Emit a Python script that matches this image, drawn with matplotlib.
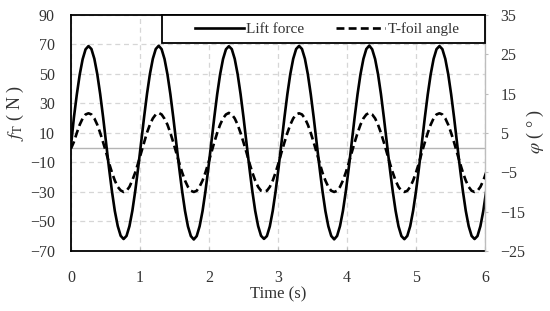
import numpy as np
import matplotlib
matplotlib.use("Agg")
import matplotlib.pyplot as plt
from matplotlib.patches import Rectangle

dt = 0.04237
lift_force = [
    1.0, 20.3, 36.0, 49.6, 60.0, 66.7, 68.9, 66.9, 60.3, 49.9, 36.3, 20.6, 3.4, -13.6, -29.3, -42.9, -53.1, -59.7, -61.9, -59.8, -53.2, -42.7, -29.1, -13.4,
    3.6, 20.6, 36.4, 49.9, 60.3, 66.9, 69.1, 66.8, 60.1, 49.7, 36.2, 20.4, 3.4, -13.5, -29.2, -42.8, -53.3, -59.9, -62.2, -59.9, -53.2, -42.9, -29.3, -13.6,
    3.4, 20.4, 36.2, 49.7, 60.1, 66.7, 68.8, 66.8, 60.2, 49.8, 36.3, 20.6, 3.6, -13.4, -29.2, -42.8, -53.1, -59.7, -61.8, -59.9, -53.3, -42.8, -29.2, -13.5,
    3.5, 20.5, 36.3, 49.9, 60.3, 66.9, 69.0, 66.9, 60.3, 49.8, 36.2, 20.5, 3.5, -13.5, -29.3, -42.9, -53.2, -59.8, -62.1, -59.8, -53.1, -42.8, -29.3, -13.6,
    3.7, 20.6, 36.3, 49.8, 60.2, 66.9, 69.2, 66.7, 60.1, 49.8, 36.3, 20.4, 3.4, -13.5, -29.1, -42.7, -53.3, -59.9, -62.0, -59.8, -53.2, -42.7, -29.2, -13.6,
    3.5, 20.4, 36.1, 49.7, 60.2, 66.8, 68.9, 66.8, 60.2, 49.8, 36.2, 20.5, 3.5, -13.6, -29.2, -42.8, -53.2, -59.8, -61.9, -59.9, -53.2, -42.8, -29.2, -13.5,
]
foil_angle = [
    1.0, 2.7, 5.0, 7.1, 8.7, 9.7, 10.0, 9.7, 8.7, 7.1, 5.0, 2.6, 0.1, -2.6, -5.0, -7.1, -8.7, -9.6, -10.0, -9.7, -8.7, -7.0, -5.0, -2.6,
    0.0, 2.6, 5.1, 7.1, 8.7, 9.7, 10.1, 9.7, 8.6, 7.1, 5.0, 2.6, 0.0, -2.6, -5.0, -7.1, -8.7, -9.7, -10.0, -9.7, -8.6, -7.1, -5.0, -2.6,
    0.0, 2.6, 5.0, 7.1, 8.7, 9.7, 10.1, 9.7, 8.7, 7.1, 5.0, 2.6, 0.1, -2.6, -5.0, -7.1, -8.7, -9.7, -9.9, -9.7, -8.7, -7.1, -5.0, -2.6,
    0.1, 2.6, 5.0, 7.1, 8.7, 9.7, 10.0, 9.7, 8.7, 7.1, 5.0, 2.6, 0.0, -2.6, -5.1, -7.1, -8.7, -9.7, -10.0, -9.7, -8.7, -7.1, -5.0, -2.6,
    0.0, 2.6, 5.0, 7.1, 8.7, 9.7, 10.1, 9.7, 8.7, 7.1, 5.0, 2.6, 0.0, -2.6, -5.0, -7.1, -8.7, -9.7, -10.0, -9.7, -8.7, -7.1, -5.0, -2.6,
    0.1, 2.6, 5.0, 7.1, 8.7, 9.7, 10.0, 9.7, 8.7, 7.1, 5.0, 2.6, 0.0, -2.6, -5.0, -7.1, -8.7, -9.7, -10.0, -9.7, -8.7, -7.1, -5.0, -2.6,
]
time = np.arange(len(lift_force)) * dt

x_ticks = [0, 1, 2, 3, 4, 5, 6]
left_ticks = [90, 70, 50, 30, 10, -10, -30, -50, -70]
right_ticks = [35, 25, 15, 5, -5, -15, -25]

plt.rcParams['font.family'] = ['Liberation Serif', 'DejaVu Serif']
plt.rcParams['mathtext.fontset'] = 'stix'
txt = '#333333'
fs = 11.5

fig = plt.figure(figsize=(5.5, 3.11), dpi=100)
ax = fig.add_axes([0.129, 0.193, 0.753, 0.759])
ax2 = ax.twinx()

ax.set_xlim(0, 6)
ax.set_ylim(-70, 90)
ax2.set_ylim(-25, 35)

ax.set_xticks(x_ticks)
ax.set_yticks(left_ticks)
ax.set_yticklabels([str(v).replace('-', '\u2212') for v in left_ticks])
ax2.set_yticks(right_ticks)
ax2.set_yticklabels([str(v).replace('-', '\u2212') for v in right_ticks])

ax.grid(True, linestyle=(0, (4, 3)), color='#d6d6d6', linewidth=0.9)
ax.axhline(0, color='#b4b4b4', linewidth=1.0, zorder=1)

l1, = ax.plot(time, lift_force, color='black', linewidth=1.9, label='Lift force', zorder=3)
l2, = ax2.plot(time, foil_angle, color='black', linewidth=1.9, linestyle=(0, (3, 1.6)),
               label='T-foil angle', zorder=3)

for s in ['left', 'bottom', 'top']:
    ax.spines[s].set_color('black')
    ax.spines[s].set_linewidth(1.3)
ax.spines['right'].set_visible(False)
for s in ['left', 'bottom', 'top']:
    ax2.spines[s].set_visible(False)
ax2.spines['right'].set_color('#bdbdbd')
ax2.spines['right'].set_linewidth(1.0)

ax.tick_params(axis='y', length=0, labelsize=fs, labelcolor=txt, pad=11.5)
ax.tick_params(axis='x', direction='in', length=3, color='#bdbdbd', labelsize=fs,
               labelcolor=txt, pad=14)
ax2.tick_params(axis='y', direction='out', length=2.5, color='#bdbdbd', labelsize=fs,
                labelcolor=txt, pad=8.5)

ax.set_xlabel('Time (s)', fontsize=12, color=txt, labelpad=0)
ax.set_ylabel(r'$f_{\mathrm{T}}$' + ' ( N )', fontsize=13, color=txt)
ax.yaxis.set_label_coords(-0.109, 0.585)
ax2.set_ylabel(r'$\varphi$' + ' ( \u00b0 )', fontsize=13, color=txt)
ax2.yaxis.set_label_coords(1.097, 0.508)

# legend box spanning the top-right of the plot
box = Rectangle((0.22, 0.881), 0.78, 0.119, transform=ax2.transAxes, facecolor='white',
                edgecolor='black', linewidth=1.3, zorder=5, clip_on=False)
ax2.add_patch(box)
leg = ax2.legend(handles=[l1, l2], loc='center', ncol=2,
                 bbox_to_anchor=(0.618, 0.94), frameon=False, fontsize=11,
                 handlelength=3.2, handletextpad=0.15, columnspacing=2.1,
                 borderpad=0.2)
leg.set_zorder(6)
for t in leg.get_texts():
    t.set_color(txt)

fig.savefig('out.png', dpi=100)
